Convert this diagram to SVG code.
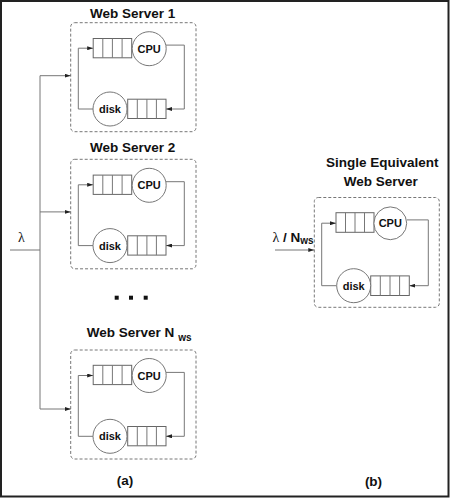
<svg xmlns="http://www.w3.org/2000/svg" width="450" height="498" viewBox="0 0 450 498">
<defs>
<style>
.box{fill:none;stroke:#777;stroke-width:1;stroke-dasharray:3,2}
.ln{fill:none;stroke:#777;stroke-width:1}
.q{fill:#fff;stroke:#666;stroke-width:1}
.c{fill:#fff;stroke:#777;stroke-width:1}
.lbl{font-family:"Liberation Sans",Arial,sans-serif;font-weight:bold;font-size:11px;fill:#111;text-anchor:middle}
.ttl{font-family:"Liberation Sans",Arial,sans-serif;font-weight:bold;font-size:13.5px;fill:#111;text-anchor:middle}
.sub{font-family:"Liberation Sans",Arial,sans-serif;font-weight:bold;font-size:10px;fill:#111}
.lam{font-family:"Liberation Serif","Times New Roman",serif;font-size:14px;fill:#111}
</style>
<marker id="ah" viewBox="0 0 6 4" refX="6" refY="2" markerWidth="6" markerHeight="4" orient="auto" markerUnits="userSpaceOnUse">
<path d="M0,0 L6,2 L0,4 Z" fill="#222"/>
</marker>
</defs>
<rect x="1" y="1" width="447.5" height="495.5" fill="#fff" stroke="#222" stroke-width="2"/>

<g id="ws1" transform="translate(70.7,22.7)">
<rect class="box" x="0" y="0" width="125.3" height="109" rx="4"/>
<path class="ln" d="M95.2,22.4 H113.6 V86.3 H95.3" marker-end="url(#ah)"/>
<path class="ln" d="M22.3,86.3 H7.6 V25.5 H22.5" marker-end="url(#ah)"/>
<rect class="q" x="22.5" y="15.8" width="38.5" height="19.3"/>
<path class="ln" d="M32.1,15.8 V35.1 M41.7,15.8 V35.1 M51.4,15.8 V35.1" stroke="#666"/>
<circle class="c" cx="78.5" cy="26" r="17"/>
<text class="lbl" x="78.5" y="30">CPU</text>
<rect class="q" x="57" y="76.5" width="38.3" height="19.3"/>
<path class="ln" d="M66.6,76.5 V95.8 M76.2,76.5 V95.8 M85.7,76.5 V95.8" stroke="#666"/>
<circle class="c" cx="39.3" cy="86.3" r="17"/>
<text class="lbl" x="39.3" y="90.3">disk</text>
<text class="ttl" x="62" y="-4.5">Web Server 1</text>
</g>

<g id="ws2" transform="translate(70.7,159.3)">
<rect class="box" x="0" y="0" width="125.3" height="109.5" rx="4"/>
<path class="ln" d="M95.2,22.4 H113.6 V86.3 H95.3" marker-end="url(#ah)"/>
<path class="ln" d="M22.3,86.3 H7.6 V25.5 H22.5" marker-end="url(#ah)"/>
<rect class="q" x="22.5" y="15.8" width="38.5" height="19.3"/>
<path class="ln" d="M32.1,15.8 V35.1 M41.7,15.8 V35.1 M51.4,15.8 V35.1" stroke="#666"/>
<circle class="c" cx="78.5" cy="26" r="17"/>
<text class="lbl" x="78.5" y="30">CPU</text>
<rect class="q" x="57" y="76.5" width="38.3" height="19.3"/>
<path class="ln" d="M66.6,76.5 V95.8 M76.2,76.5 V95.8 M85.7,76.5 V95.8" stroke="#666"/>
<circle class="c" cx="39.3" cy="86.3" r="17"/>
<text class="lbl" x="39.3" y="90.3">disk</text>
<text class="ttl" x="62" y="-7.6">Web Server 2</text>
</g>

<g id="dots" fill="#111">
<rect x="114.7" y="295.7" width="4" height="4"/>
<rect x="129" y="295.7" width="4" height="4"/>
<rect x="143.7" y="295.7" width="4" height="4"/>
</g>

<g id="wsN" transform="translate(70.7,350)">
<rect class="box" x="0" y="0" width="125.3" height="109" rx="4"/>
<path class="ln" d="M95.2,22.4 H113.6 V86.3 H95.3" marker-end="url(#ah)"/>
<path class="ln" d="M22.3,86.3 H7.6 V25.5 H22.5" marker-end="url(#ah)"/>
<rect class="q" x="22.5" y="15.3" width="38.5" height="19.3"/>
<path class="ln" d="M32.1,15.3 V34.6 M41.7,15.3 V34.6 M51.4,15.3 V34.6" stroke="#666"/>
<circle class="c" cx="78.5" cy="25.5" r="17"/>
<text class="lbl" x="78.5" y="29.5">CPU</text>
<rect class="q" x="57" y="76.5" width="38.3" height="19.3"/>
<path class="ln" d="M66.6,76.5 V95.8 M76.2,76.5 V95.8 M85.7,76.5 V95.8" stroke="#666"/>
<circle class="c" cx="39.3" cy="86.3" r="17"/>
<text class="lbl" x="39.3" y="90.3">disk</text>
<text x="16" y="-12.7" font-family="Liberation Sans, Arial, sans-serif" font-weight="bold" font-size="13.5" fill="#111">Web Server N<tspan font-size="10" dx="4" dy="3.4">ws</tspan></text>
</g>

<g id="wsB" transform="translate(314.3,197.5)">
<rect class="box" x="0" y="0" width="125" height="109.8" rx="4"/>
<path class="ln" d="M92.5,22.4 H114 V88.2 H95" marker-end="url(#ah)"/>
<path class="ln" d="M22.3,88.2 H7.4 V25.7 H21.7" marker-end="url(#ah)"/>
<rect class="q" x="21.7" y="15.2" width="38" height="19.6"/>
<path class="ln" d="M31.2,15.2 V34.8 M40.7,15.2 V34.8 M50.2,15.2 V34.8" stroke="#666"/>
<circle class="c" cx="76" cy="25.8" r="16.4"/>
<text class="lbl" x="76" y="29.8">CPU</text>
<rect class="q" x="56.4" y="78.4" width="38.6" height="19.6"/>
<path class="ln" d="M66,78.4 V98 M75.7,78.4 V98 M85.3,78.4 V98" stroke="#666"/>
<circle class="c" cx="39.4" cy="88.2" r="17"/>
<text class="lbl" x="39.4" y="92.2">disk</text>
<text class="ttl" x="68" y="-30.8">Single Equivalent</text>
<text class="ttl" x="66.5" y="-11.8">Web Server</text>
</g>

<g id="connectors">
<path class="ln" d="M10,250 H40"/>
<path class="ln" d="M40,75.7 V409"/>
<path class="ln" d="M40,75.7 H70.7" marker-end="url(#ah)"/>
<path class="ln" d="M40,211.9 H70.7" marker-end="url(#ah)"/>
<path class="ln" d="M40,409 H70.7" marker-end="url(#ah)"/>
<path class="ln" d="M275,250 H314.3" marker-end="url(#ah)"/>
</g>

<text class="lam" x="21.5" y="241.5" text-anchor="middle">λ</text>
<text x="272.5" y="241.5" font-family="Liberation Sans, Arial, sans-serif" font-weight="bold" font-size="13.5" fill="#111"><tspan font-family="Liberation Serif, Times New Roman, serif" font-weight="normal" font-size="14">λ</tspan> / N<tspan font-size="10" dy="2">ws</tspan></text>

<text class="ttl" x="125" y="485">(a)</text>
<text class="ttl" x="373.5" y="486">(b)</text>
</svg>
